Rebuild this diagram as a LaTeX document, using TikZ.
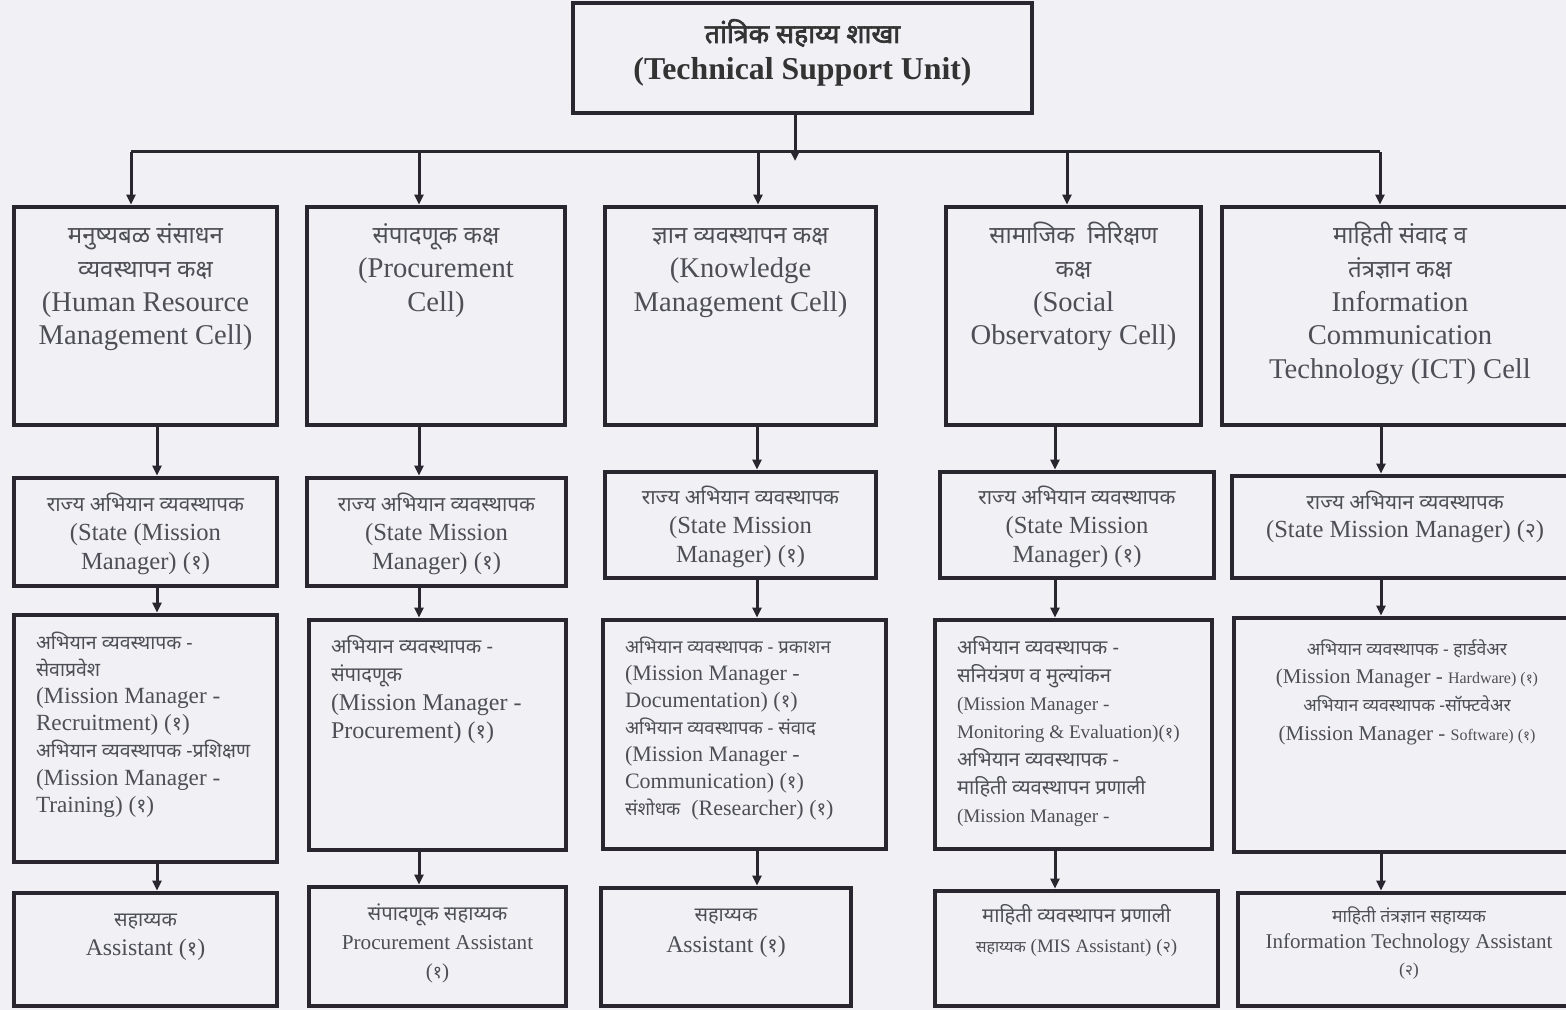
\documentclass[tikz,border=0pt]{standalone}
\usepackage{fontspec}
\usepackage{xcolor}
\usepackage{tikz}
\setmainfont{Liberation Serif}
\newfontfamily\marathi[Script=Devanagari,Scale=0.84,BoldFont={Noto Sans},BoldFeatures={FakeBold=2.5}]{Noto Sans}
\usetikzlibrary{arrows.meta,positioning}

\definecolor{paper}{RGB}{240,240,245}
\definecolor{linecol}{RGB}{42,38,48}
\definecolor{inkcol}{RGB}{78,78,86}
\newcommand{\dev}[1]{{\marathi #1}}
% width, height, first baseline, body
\newcommand{\boxbody}[4]{\parbox[c][#2][t]{#1}{\rule{0pt}{#3}#4}}
\newcommand{\lpad}{\raggedright\leftskip=11pt\relax}

\begin{document}
\begin{tikzpicture}[x=0.5pt, y=-0.5pt,
    cell/.style={draw=linecol, line width=2.4pt, fill=paper, inner sep=0pt, text=inkcol},
    link/.style={draw=linecol, line width=1.5pt},
    arr/.style={draw=linecol, line width=1.5pt, -{Triangle[length=5pt,width=4.5pt]}}]
    \useasboundingbox (0,0) rectangle (1566,1010);
    \fill[paper] (0,0) rectangle (1566,1010);
    \clip (0,0) rectangle (1566,1010);

    % top unit
    \node[cell, line width=2pt, text=black!80, font=\bfseries\fontsize{15.9}{18.5}\selectfont] (tsu) at (802.5,58)
        {\boxbody{229.5pt}{55pt}{20pt}{\centering\dev{तांत्रिक सहाय्य शाखा}\\(Technical Support Unit)}};

    % cells
    \node[cell, font=\fontsize{14.3}{16.8}\selectfont] (hr) at (145.5,316)
        {\boxbody{131.5pt}{109pt}{18.5pt}{\centering\dev{मनुष्यबळ संसाधन}\\\dev{व्यवस्थापन कक्ष}\\(Human Resource\\Management Cell)}};
    \node[cell, font=\fontsize{14.3}{16.8}\selectfont] (pr) at (436,316)
        {\boxbody{129pt}{109pt}{18.5pt}{\centering\dev{संपादणूक कक्ष}\\(Procurement\\Cell)}};
    \node[cell, font=\fontsize{14.3}{16.8}\selectfont] (km) at (740.5,316)
        {\boxbody{135.5pt}{109pt}{18.5pt}{\centering\dev{ज्ञान व्यवस्थापन कक्ष}\\(Knowledge\\Management Cell)}};
    \node[cell, font=\fontsize{14.3}{16.8}\selectfont] (so) at (1073.5,316)
        {\boxbody{127.5pt}{109pt}{18.5pt}{\centering\dev{सामाजिक\ \ निरिक्षण}\\\dev{कक्ष}\\(Social\\Observatory Cell)}};
    \node[cell, font=\fontsize{14.3}{16.8}\selectfont] (ict) at (1400,316)
        {\boxbody{178pt}{109pt}{18.5pt}{\centering\dev{माहिती संवाद व}\\\dev{तंत्रज्ञान कक्ष}\\Information\\Communication\\Technology (ICT) Cell}};

    % state mission managers
    \node[cell, font=\fontsize{12.3}{14.5}\selectfont] (hr-smm) at (145.5,532)
        {\boxbody{131.5pt}{54pt}{16.5pt}{\centering\dev{राज्य अभियान व्यवस्थापक}\\(State (Mission\\Manager) (\dev{१})}};
    \node[cell, font=\fontsize{12.3}{14.5}\selectfont] (pr-smm) at (436.5,532)
        {\boxbody{129.5pt}{54pt}{16.5pt}{\centering\dev{राज्य अभियान व्यवस्थापक}\\(State Mission\\Manager) (\dev{१})}};
    \node[cell, font=\fontsize{12.3}{14.5}\selectfont] (km-smm) at (740.5,525)
        {\boxbody{135.5pt}{53pt}{16pt}{\centering\dev{राज्य अभियान व्यवस्थापक}\\(State Mission\\Manager) (\dev{१})}};
    \node[cell, font=\fontsize{12.3}{14.5}\selectfont] (so-smm) at (1077,525)
        {\boxbody{137pt}{53pt}{16pt}{\centering\dev{राज्य अभियान व्यवस्थापक}\\(State Mission\\Manager) (\dev{१})}};
    \node[cell, font=\fontsize{12.3}{14}\selectfont] (ict-smm) at (1405,527)
        {\boxbody{173pt}{51pt}{16.5pt}{\centering\dev{राज्य अभियान व्यवस्थापक}\\(State Mission Manager) (\dev{२})}};

    % mission managers
    \node[cell, font=\fontsize{11.6}{13.6}\selectfont] (hr-mm) at (145.5,738.5)
        {\boxbody{131.5pt}{123.5pt}{17pt}{\lpad\dev{अभियान व्यवस्थापक -}\\\dev{सेवाप्रवेश}\\(Mission Manager -\\Recruitment) (\dev{१})\\\dev{अभियान व्यवस्थापक -प्रशिक्षण}\\(Mission Manager -\\Training) (\dev{१})}};
    \node[cell, font=\fontsize{12}{14.3}\selectfont] (pr-mm) at (437.5,735)
        {\boxbody{128.5pt}{115pt}{16.5pt}{\lpad\dev{अभियान व्यवस्थापक -}\\\dev{संपादणूक}\\(Mission Manager -\\Procurement) (\dev{१})}};
    \node[cell, font=\fontsize{11}{13.5}\selectfont] (km-mm) at (744.5,734.5)
        {\boxbody{141.5pt}{114.5pt}{16.5pt}{\lpad\dev{अभियान व्यवस्थापक - प्रकाशन}\\(Mission Manager -\\Documentation) (\dev{१})\\\dev{अभियान व्यवस्थापक - संवाद}\\(Mission Manager -\\Communication) (\dev{१})\\\dev{संशोधक}\ \ (Researcher) (\dev{१})}};
    \node[cell, font=\fontsize{9.6}{14}\selectfont] (so-mm) at (1073.5,734.5)
        {\boxbody{138.5pt}{114.5pt}{17pt}{\lpad{\large\dev{अभियान व्यवस्थापक -}}\\{\large\dev{सनियंत्रण व मुल्यांकन}}\\(Mission Manager -\\Monitoring \& Evaluation)(\dev{१})\\{\large\dev{अभियान व्यवस्थापक -}}\\{\large\dev{माहिती व्यवस्थापन प्रणाली}}\\(Mission Manager -}};
    \node[cell, font=\fontsize{10.5}{14.2}\selectfont] (ict-mm) at (1407,735)
        {\boxbody{173pt}{117pt}{18.5pt}{\centering\dev{अभियान व्यवस्थापक - हार्डवेअर}\\(Mission Manager - {\footnotesize Hardware) (\dev{१})}\\\dev{अभियान व्यवस्थापक -सॉफ्टवेअर}\\(Mission Manager - {\footnotesize Software) (\dev{१})}}};

    % assistants
    \node[cell, font=\fontsize{11.9}{14.5}\selectfont] (hr-as) at (145.5,949.5)
        {\boxbody{131.5pt}{56.5pt}{16.5pt}{\centering\dev{सहाय्यक}\\Assistant (\dev{१})}};
    \node[cell, font=\fontsize{10.6}{14.7}\selectfont] (pr-as) at (437.5,946.5)
        {\boxbody{128.5pt}{59.5pt}{16.5pt}{\centering{\large\dev{संपादणूक सहाय्यक}}\\Procurement Assistant\\(\dev{१})}};
    \node[cell, font=\fontsize{11.9}{15.5}\selectfont] (km-as) at (726,947)
        {\boxbody{125pt}{59pt}{16.5pt}{\centering\dev{सहाय्यक}\\Assistant (\dev{१})}};
    \node[cell, font=\fontsize{9.5}{15}\selectfont] (so-as) at (1076.5,948.5)
        {\boxbody{141.5pt}{57.5pt}{15.5pt}{\centering{\large\dev{माहिती व्यवस्थापन प्रणाली}}\\\dev{सहाय्यक} (MIS Assistant) (\dev{२})}};
    \node[cell, font=\fontsize{10.5}{13.3}\selectfont] (ict-as) at (1409,949.5)
        {\boxbody{171pt}{56.5pt}{14.5pt}{\centering\dev{माहिती तंत्रज्ञान सहाय्यक}\\Information Technology Assistant\\{\small(\dev{२})}}};

    % bus
    \coordinate (b0) at (795,161);
    \coordinate (b1) at (131,152);
    \coordinate (b2) at (419,152);
    \coordinate (b3) at (758,152);
    \coordinate (b4) at (1067,152);
    \coordinate (b5) at (1380,152);
    \draw[link] (b1) -- (b5);
    \draw[arr] (tsu.south -| b0) -- (b0);
    \draw[arr] (b1) -- (b1 |- hr.north);
    \draw[arr] (b2) -- (b2 |- pr.north);
    \draw[arr] (b3) -- (b3 |- km.north);
    \draw[arr] (b4) -- (b4 |- so.north);
    \draw[arr] (b5) -- (b5 |- ict.north);

    % columns
    \coordinate (c1) at (157,0);
    \coordinate (c2) at (419,0);
    \coordinate (c3) at (757,0);
    \coordinate (c4) at (1055,0);
    \coordinate (c5) at (1381,0);
    \draw[arr] (hr.south -| c1) -- (hr-smm.north -| c1);
    \draw[arr] (hr-smm.south -| c1) -- (hr-mm.north -| c1);
    \draw[arr] (hr-mm.south -| c1) -- (hr-as.north -| c1);
    \draw[arr] (pr.south -| c2) -- (pr-smm.north -| c2);
    \draw[arr] (pr-smm.south -| c2) -- (pr-mm.north -| c2);
    \draw[arr] (pr-mm.south -| c2) -- (pr-as.north -| c2);
    \draw[arr] (km.south -| c3) -- (km-smm.north -| c3);
    \draw[arr] (km-smm.south -| c3) -- (km-mm.north -| c3);
    \draw[arr] (km-mm.south -| c3) -- (km-as.north -| c3);
    \draw[arr] (so.south -| c4) -- (so-smm.north -| c4);
    \draw[arr] (so-smm.south -| c4) -- (so-mm.north -| c4);
    \draw[arr] (so-mm.south -| c4) -- (so-as.north -| c4);
    \draw[arr] (ict.south -| c5) -- (ict-smm.north -| c5);
    \draw[arr] (ict-smm.south -| c5) -- (ict-mm.north -| c5);
    \draw[arr] (ict-mm.south -| c5) -- (ict-as.north -| c5);
\end{tikzpicture}
\end{document}
